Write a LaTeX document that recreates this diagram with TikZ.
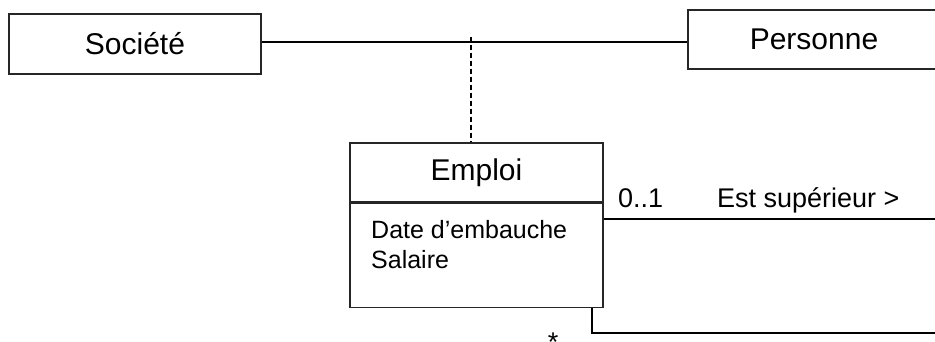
\documentclass[tikz,border=0pt]{standalone}
\usepackage{fontspec}
\setmainfont{Liberation Sans}
\usetikzlibrary{positioning}
\begin{document}
\begin{tikzpicture}[x=1pt,y=-1pt,
  classbox/.style={draw=black!85,line width=1.2pt,inner sep=0pt,font=\fontsize{30}{36}\selectfont},
  assoc/.style={line width=1.2pt},
  reflexive/.style={line width=2pt},
  lbl/.style={inner sep=0pt,font=\fontsize{27}{32}\selectfont}]
\useasboundingbox (0,0) rectangle (935,341);
%
\node[classbox,minimum width=252pt,minimum height=60pt] (societe) at (135,44) {Société};
\node[classbox,minimum width=252pt,minimum height=59pt] (personne) at (814,39.5) {Personne};
\draw[assoc] (societe.east |- 0,42) -- (personne.west |- 0,42);
\coordinate (assocmid) at (471,42);
%
\node[classbox,minimum width=253pt,minimum height=59pt] (emploi) at (476.5,172.5) {Emploi};
\node[classbox,minimum width=253pt,minimum height=104pt,anchor=north] (emploiattr) at (emploi.south) {};
\node[anchor=north west,align=left,inner sep=0pt,font=\fontsize{25}{30}\selectfont] (attrtxt)
  at (371,220) {Date d’embauche\\Salaire};
\draw[line width=1.2pt,dash pattern=on 5pt off 3pt] ([yshift=5pt]assocmid) -- (emploi.north -| assocmid);
%
\coordinate (superieur) at (935,219);
\coordinate (subordonne) at (935,333);
\draw[reflexive] (emploiattr.east |- superieur) -- (superieur);
\draw[reflexive] ([xshift=-12pt]emploiattr.south east) |- (subordonne);
\node[lbl,anchor=base west] (multsup) at (618,207) {0..1};
\node[lbl,anchor=base west] (assocname) at (717,207) {Est supérieur >};
\node[lbl,anchor=base] (multsub) at (553,351) {*};
\end{tikzpicture}
\end{document}
